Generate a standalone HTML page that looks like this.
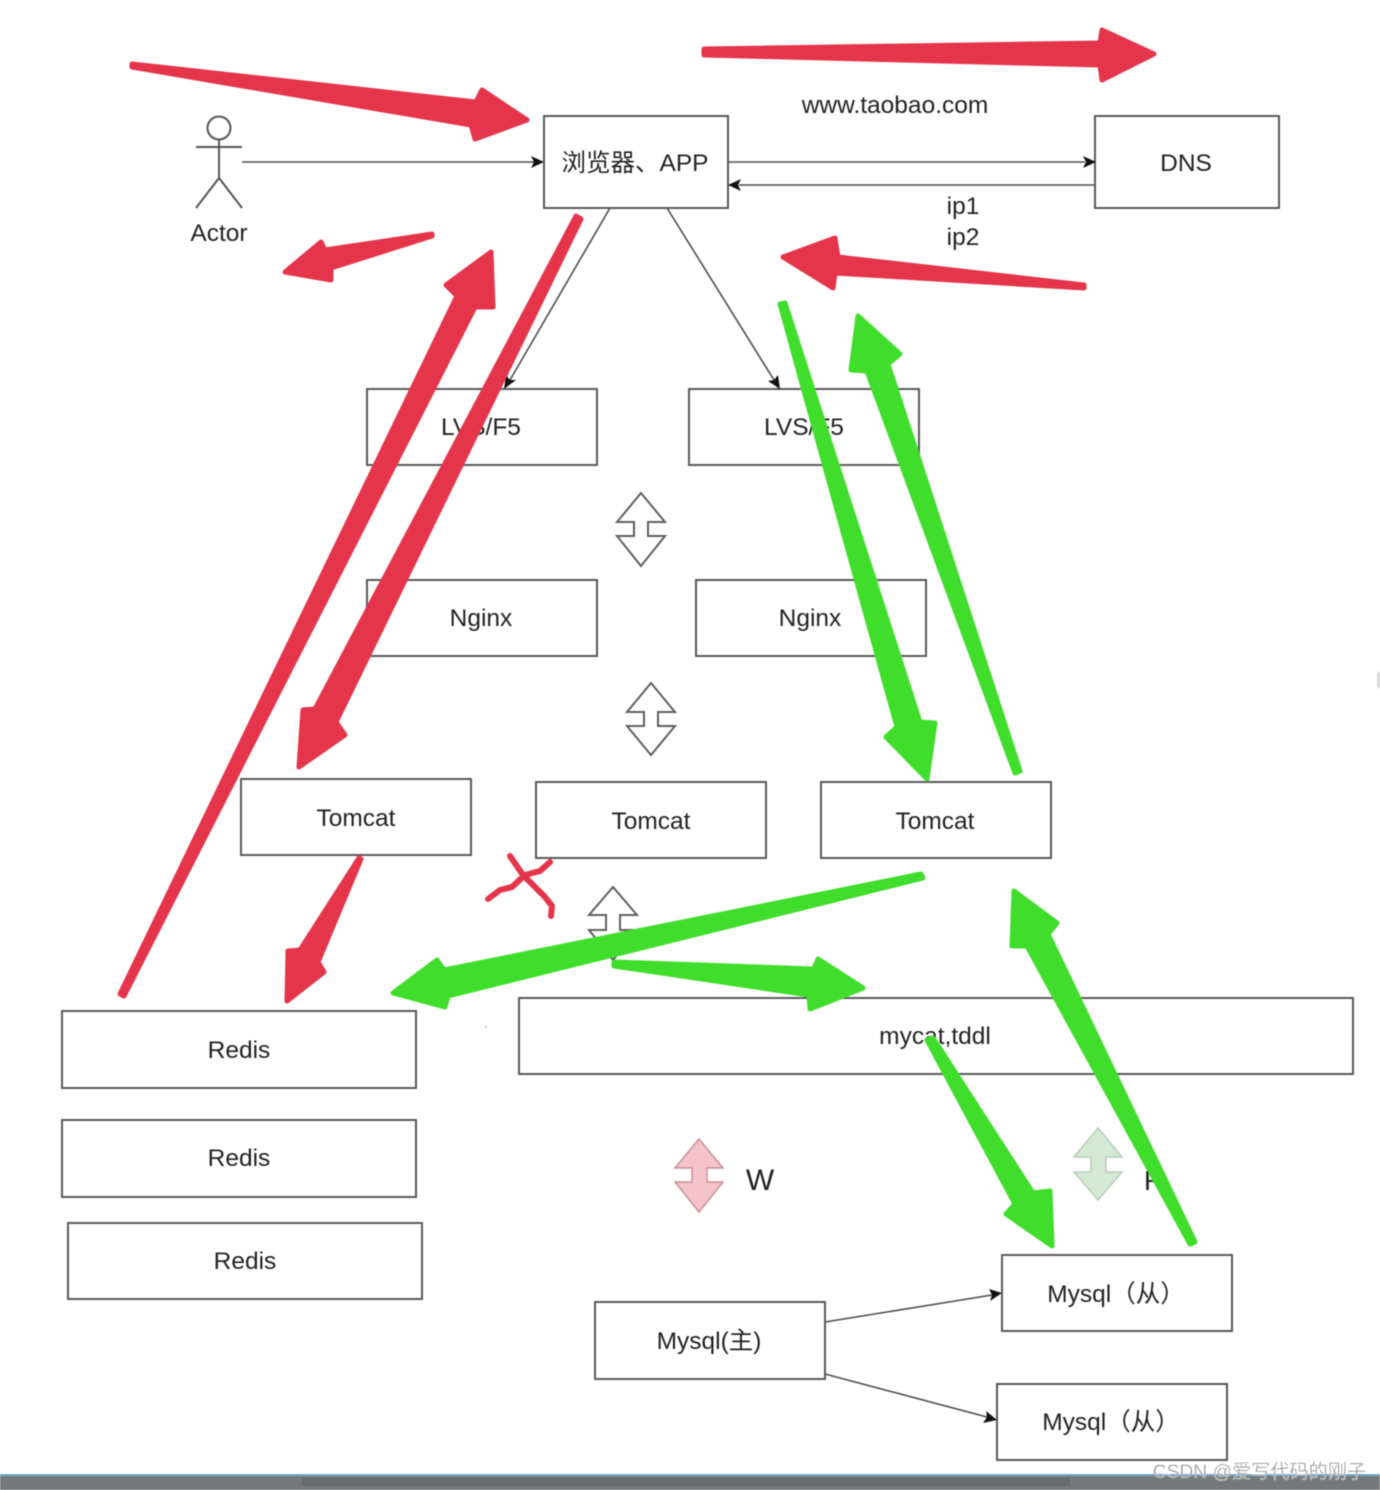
<!DOCTYPE html>
<html><head><meta charset="utf-8"><style>
html,body{margin:0;padding:0;background:#fff;width:1380px;height:1490px;overflow:hidden}
svg{display:block;filter:blur(.45px)}
text{font-family:"Liberation Sans","Noto Sans CJK SC",sans-serif;font-size:24.5px;fill:#222;text-anchor:middle}
.b rect{fill:#fff;stroke:#5a5a5a;stroke-width:2}
.l{stroke:#4d4d4d;stroke-width:1.6;fill:none}
.h{fill:#111}
.d{fill:#fff;stroke:#606060;stroke-width:2;stroke-linejoin:miter}
.r{fill:#e5354a;stroke:#e5354a;stroke-width:5;stroke-linejoin:round}
.g{fill:#41dd2c;stroke:#41dd2c;stroke-width:5;stroke-linejoin:round}
</style></head><body>
<svg width="1380" height="1490" viewBox="0 0 1380 1490" xmlns="http://www.w3.org/2000/svg">
<rect width="1380" height="1490" fill="#fff"/>
<g class="b">
<rect x="544" y="116" width="184" height="92"/>
<rect x="1095" y="116" width="184" height="92"/>
<rect x="367" y="389" width="230" height="76"/>
<rect x="689" y="389" width="230" height="76"/>
<rect x="367" y="580" width="230" height="76"/>
<rect x="696" y="580" width="230" height="76"/>
<rect x="241" y="779" width="230" height="76"/>
<rect x="536" y="782" width="230" height="76"/>
<rect x="821" y="782" width="230" height="76"/>
<rect x="62" y="1011" width="354" height="77"/>
<rect x="62" y="1120" width="354" height="77"/>
<rect x="68" y="1223" width="354" height="76"/>
<rect x="519" y="998" width="834" height="76"/>
<rect x="595" y="1302" width="230" height="77"/>
<rect x="1002" y="1255" width="230" height="76"/>
<rect x="997" y="1384" width="230" height="76"/>
</g>
<!-- actor -->
<g fill="none" stroke="#555" stroke-width="2">
<circle cx="219" cy="128" r="11.5"/>
<path d="M219 140V178M196 147H242M219 178L196 208M219 178L242 208"/>
</g>
<!-- connectors -->
<path class="l" d="M242 162H534M729 162H1085M1095 185H739M610 208L510 380M667 208L774 380M825 1322L992 1295M825 1374L987 1417"/>
<path class="h" d="M544 162L531 156L534 162L531 168Z"/>
<path class="h" d="M1096 162L1083 156L1086 162L1083 168Z"/>
<path class="h" d="M728 185L741 179L738 185L741 191Z"/>
<path class="h" d="M504 389L506 375L510 380L516 380Z"/>
<path class="h" d="M780 389L768 381L774 380L778 375Z"/>
<path class="h" d="M1002 1293L989 1289L992 1295L990 1301Z"/>
<path class="h" d="M997 1420L986 1411L987 1417L983 1423Z"/>
<!-- double arrows -->
<path class="d" d="M641 493L665 522H648V536H665L641 566L617 536H634V522H617Z"/>
<path class="d" d="M651 683L675 712H658V726H675L651 755L627 726H644V712H627Z"/>
<path class="d" d="M613 887L637 915H620V930H637L613 960L589 930H606V915H589Z"/>
<path d="M699 1139L723 1168H707V1182H723L699 1212L675 1182H692V1168H675Z" fill="#f5c3ca" stroke="#c98f98" stroke-width="1.5"/>
<path d="M1098 1128L1122 1157H1106V1172H1122L1098 1200L1074 1172H1091V1157H1074Z" fill="#d5e8d4" stroke="#b7ceb5" stroke-width="1.5"/>
<!-- labels -->
<text x="635" y="171">浏览器、APP</text>
<text x="1186" y="171">DNS</text>
<text x="895" y="113">www.taobao.com</text>
<text x="963" y="214">ip1</text>
<text x="963" y="245">ip2</text>
<text x="219" y="241">Actor</text>
<text x="481" y="435">LVS/F5</text>
<text x="804" y="435">LVS/F5</text>
<text x="481" y="626">Nginx</text>
<text x="810" y="626">Nginx</text>
<text x="356" y="826">Tomcat</text>
<text x="651" y="829">Tomcat</text>
<text x="935" y="829">Tomcat</text>
<text x="239" y="1058">Redis</text>
<text x="239" y="1166">Redis</text>
<text x="245" y="1269">Redis</text>
<text x="935" y="1044">mycat,tddl</text>
<text x="760" y="1190" style="font-size:30px">W</text>
<text x="1154" y="1190" style="font-size:28px">R</text>
<text x="709" y="1349">Mysql(主)</text>
<text x="1116" y="1302">Mysql（从）</text>
<text x="1111" y="1430">Mysql（从）</text>
<!-- red x -->
<g fill="none" stroke="#e5354a" stroke-width="6" stroke-linecap="round" stroke-linejoin="round">
<path d="M510 856L523 875L545 897L552 906L551 916"/>
<path d="M488 899L500 890L512 887L525 875L540 871L550 862"/>
</g>
<!-- red arrows -->
<polygon class="r" points="132,64 476,102 482,90 527,120 475,139 471,125 132,67"/>
<polygon class="r" points="704,49 1100,43 1102,30 1154,54 1102,80 1100,65 704,55"/>
<polygon class="r" points="432,234 325,250 321,242 285,272 331,280 331,268 432,236"/>
<polygon class="r" points="1084,285 838,257 835,238 783,257 833,288 835,273 1084,288"/>
<polygon class="r" points="120,994 457,296 446,285 491,252 493,307 475,307 124,996"/>
<polygon class="r" points="576,216 315,709 303,710 299,767 345,735 336,722 581,219"/>
<polygon class="r" points="359,858 300,950 288,951 287,1001 324,972 318,962 361,859"/>
<!-- green arrows -->
<polygon class="g" points="780,304 897,727 886,737 927,779 935,723 920,722 785,303"/>
<polygon class="g" points="1015,773 867,371 851,370 858,316 900,354 888,364 1020,771"/>
<polygon class="g" points="921,874 444,970 437,960 393,993 445,1007 448,996 923,878"/>
<polygon class="g" points="614,962 814,969 818,959 863,988 810,1009 809,995 614,966"/>
<polygon class="g" points="927,1040 1015,1204 1006,1214 1052,1246 1050,1191 1033,1193 933,1038"/>
<polygon class="g" points="1190,1244 1027,946 1012,946 1014,891 1057,923 1048,934 1195,1242"/>
<!-- bottom bar -->
<rect x="0" y="1474" width="1380" height="2" fill="#79a7c6"/>
<rect x="0" y="1476" width="1380" height="14" fill="#727a7c"/>
<rect x="302" y="1478" width="768" height="8" fill="#666b6d"/>
<circle cx="486" cy="1027" r="1" fill="#bbb"/>
<rect x="1377" y="672" width="3" height="16" fill="#ddd"/>
<text x="1259.5" y="1478" style="font-size:19.2px;fill:#9a9a9a;stroke:#fff;stroke-width:.3">CSDN @爱写代码的刚子</text>
</svg>
</body></html>
